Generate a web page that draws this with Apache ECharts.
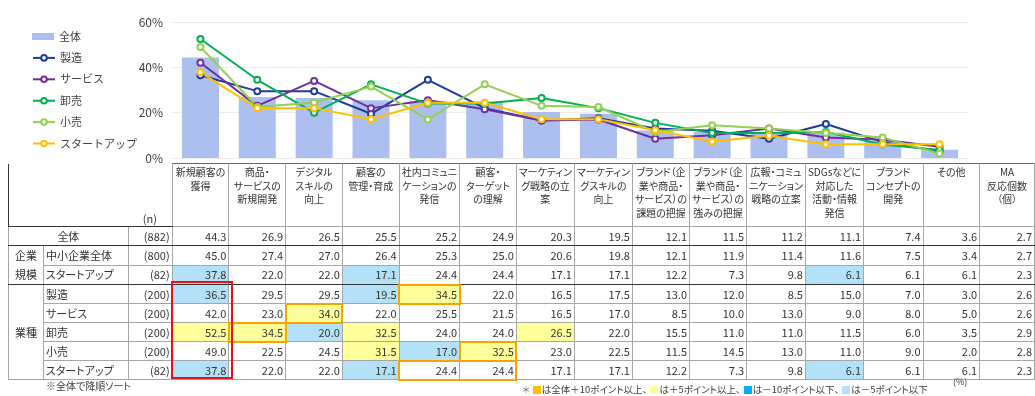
<!DOCTYPE html>
<html>
<head>
<meta charset="utf-8">
<script src="https://cdn.jsdelivr.net/npm/echarts@6.0.0/dist/echarts.min.js"></script>
<style>
  body { margin: 0; width: 1035px; height: 396px; position: relative; overflow: hidden; background: #fff;
         font-family: "Noto Sans CJK JP", sans-serif; color: #333; }
  #chart { position: absolute; left: 0; top: 0; width: 1035px; height: 396px; }
  #tbl { position: absolute; left: 8px; top: 163px; border-collapse: collapse; table-layout: fixed;
         font-size: 11px; font-feature-settings: "palt"; border: 1.5px solid #333; border-top: none; }
  #tbl td, #tbl th { padding: 0 2px; border: 1px solid #a6a6a6; line-height: 17px; white-space: nowrap; overflow: hidden; }
  #tbl tr { height: 19px; }
  #tbl tr.hd { height: 63px; }
  #tbl th { font-weight: normal; font-size: 10px; line-height: 13.5px; vertical-align: top; text-align: center; padding-top: 1px;
            border-top: 1px solid #666; }
  #tbl td.blank { border: none; border-bottom: 1.5px solid #333; }
  #tbl td.ncol { border: none; border-bottom: 1.5px solid #333; text-align: center; vertical-align: bottom; line-height: 15px; }
  #tbl td.ctr { text-align: center; }
  #tbl td.grp { text-align: center; line-height: 19px; }
  #tbl td.num { text-align: right; }
  #tbl tr.sep td { border-bottom: 1.5px solid #333; }
  #tbl .ma { border-left: 1.5px solid #333; }
  #tbl td.up10 { background: #ffc000; }
  #tbl td.up5 { background: #ffff9c; }
  #tbl td.dn10 { background: #00b0f0; }
  #tbl td.dn5 { background: #b5e1f8; }
  .box { position: absolute; box-sizing: border-box; pointer-events: none; }
  .note { position: absolute; font-size: 10px; color: #404040; font-feature-settings: "palt"; white-space: nowrap; }
  .sq { display: inline-block; width: 8px; height: 8px; vertical-align: -1px; margin: 0 1px 0 3px; }
</style>
</head>
<body>
<div id="chart"></div>
<table id="tbl"></table>
<div class="note" style="left:46px;top:378px;">※全体で降順ソート</div>
<div class="note" id="legendNote" style="left:522px;top:382px;font-size:9.5px;"></div>
<div class="note" style="left:953px;top:375px;font-size:9px;">(%)</div>

<script>
// 項目（全体で降順ソート）
const itemLabels = [
  '新規顧客の\n獲得', '商品・\nサービスの\n新規開発', 'デジタル\nスキルの\n向上', '顧客の\n管理・育成',
  '社内コミュニ\nケーションの\n発信', '顧客・\nターゲット\nの理解', 'マーケティン\nグ戦略の立\n案',
  'マーケティン\nグスキルの\n向上', 'ブランド（企\n業や商品・\nサービス）の\n課題の把握',
  'ブランド（企\n業や商品・\nサービス）の\n強みの把握', '広報・コミュ\nニケーション\n戦略の立案',
  'SDGsなどに\n対応した\n活動・情報\n発信', 'ブランド\nコンセプトの\n開発', 'その他'
];
const maLabel = 'MA\n反応個数\n（個）';

const overall         = [44.3, 26.9, 26.5, 25.5, 25.2, 24.9, 20.3, 19.5, 12.1, 11.5, 11.2, 11.1, 7.4, 3.6];
const smeAll          = [45.0, 27.4, 27.0, 26.4, 25.3, 25.0, 20.6, 19.8, 12.1, 11.9, 11.4, 11.6, 7.5, 3.4];
const startupSize     = [37.8, 22.0, 22.0, 17.1, 24.4, 24.4, 17.1, 17.1, 12.2, 7.3, 9.8, 6.1, 6.1, 6.1];
const manufacturing   = [36.5, 29.5, 29.5, 19.5, 34.5, 22.0, 16.5, 17.5, 13.0, 12.0, 8.5, 15.0, 7.0, 3.0];
const service         = [42.0, 23.0, 34.0, 22.0, 25.5, 21.5, 16.5, 17.0, 8.5, 10.0, 13.0, 9.0, 8.0, 5.0];
const wholesale       = [52.5, 34.5, 20.0, 32.5, 24.0, 24.0, 26.5, 22.0, 15.5, 11.0, 11.0, 11.5, 6.0, 3.5];
const retail          = [49.0, 22.5, 24.5, 31.5, 17.0, 32.5, 23.0, 22.5, 11.5, 14.5, 13.0, 11.0, 9.0, 2.0];
const startupIndustry = [37.8, 22.0, 22.0, 17.1, 24.4, 24.4, 17.1, 17.1, 12.2, 7.3, 9.8, 6.1, 6.1, 6.1];

const rowNames   = ['全体', '中小企業全体', 'スタートアップ', '製造', 'サービス', '卸売', '小売', 'スタートアップ'];
const sampleSize = [882, 800, 82, 200, 200, 200, 200, 82];
const maCounts   = [2.7, 2.7, 2.3, 2.6, 2.6, 2.9, 2.8, 2.3];
const rowValues  = [overall, smeAll, startupSize, manufacturing, service, wholesale, retail, startupIndustry];

// 注目セル [行, 列, 列数]
const orangeBoxes = [[3, 4, 1], [4, 2, 1], [5, 1, 1], [6, 5, 1], [7, 4, 2]];
const redBox = [3, 7, 0]; // 業種の新規顧客の獲得

const lineSeries = [
  { name: '製造', data: manufacturing, color: '#1f3c9c' },
  { name: 'サービス', data: service, color: '#7030a0' },
  { name: '卸売', data: wholesale, color: '#00b050' },
  { name: '小売', data: retail, color: '#92d050' },
  { name: 'スタートアップ', data: startupIndustry, color: '#ffc000' }
];
const barColor = '#adbfef';

// ---------- chart ----------
const myChart = echarts.init(document.getElementById('chart'));
const legendNames = ['全体'].concat(lineSeries.map(s => s.name));

const option = {
  animation: false,
  textStyle: { fontFamily: '"Noto Sans CJK JP", sans-serif' },
  grid: { left: 172, right: 67, top: 22, bottom: 238, containLabel: false, outerBoundsMode: 'none' },
  legend: legendNames.map((name, i) => ({
    data: [name],
    left: 32,
    top: 31 + i * 21.4,
    orient: 'vertical',
    itemWidth: 22,
    itemHeight: 7,
    icon: i === 0 ? 'rect' : undefined,
    padding: 0,
    selectedMode: false,
    textStyle: { fontSize: 11, color: '#404040' }
  })),
  xAxis: {
    type: 'category',
    data: itemLabels,
    axisLine: { show: false },
    axisTick: { show: false },
    axisLabel: { show: false }
  },
  yAxis: {
    type: 'value',
    min: 0,
    max: 60,
    interval: 20,
    axisLine: { show: false },
    axisTick: { show: false },
    axisLabel: { formatter: '{value}%', fontSize: 12, color: '#404040', margin: 9 },
    splitLine: { lineStyle: { color: '#ececec', width: 1 } }
  },
  series: [
    {
      name: '全体',
      type: 'bar',
      data: overall,
      barWidth: 37,
      itemStyle: { color: barColor }
    }
  ].concat(lineSeries.map(s => ({
    name: s.name,
    type: 'line',
    data: s.data,
    symbol: 'emptyCircle',
    symbolSize: 6,
    color: s.color,
    lineStyle: { width: 2, color: s.color },
    itemStyle: { color: s.color, borderWidth: 1.5 }
  })))
};
myChart.setOption(option);

// ---------- table ----------
function br(t) { return t.replace(/\n/g, '<br>'); }
function cellClass(r, c) {
  if (r === 0) return '';
  const d = Math.round((rowValues[r][c] - overall[c]) * 10) / 10;
  if (d >= 10) return 'up10';
  if (d >= 5) return 'up5';
  if (d <= -10) return 'dn10';
  if (d <= -5) return 'dn5';
  return '';
}

const tbl = document.getElementById('tbl');
let html = '<colgroup><col style="width:35px"><col style="width:85px"><col style="width:44px">';
itemLabels.forEach(() => { html += '<col style="width:56.857px">'; });
html += '<col style="width:55px"></colgroup>';
html += '<tr class="hd"><td colspan="2" class="blank"></td><td class="ncol">(n)</td>';
itemLabels.forEach(l => { html += '<th>' + br(l) + '</th>'; });
html += '<th class="ma">' + br(maLabel) + '</th></tr>';

rowNames.forEach((name, r) => {
  const sep = (r === 0 || r === 2) ? ' class="sep"' : '';
  html += '<tr' + sep + '>';
  if (r === 0) html += '<td colspan="2" class="ctr">' + name + '</td>';
  else {
    if (r === 1) html += '<td rowspan="2" class="grp" style="border-bottom:1.5px solid #333">企業<br>規模</td>';
    if (r === 3) html += '<td rowspan="5" class="grp">業種</td>';
    html += '<td>' + name + '</td>';
  }
  html += '<td class="num">(' + sampleSize[r] + ')</td>';
  rowValues[r].forEach((v, c) => {
    html += '<td class="num ' + cellClass(r, c) + '" data-r="' + r + '" data-c="' + c + '">' + v.toFixed(1) + '</td>';
  });
  html += '<td class="num ma">' + maCounts[r].toFixed(1) + '</td></tr>';
});
tbl.innerHTML = html;

function cellRect(r, c) {
  return tbl.querySelector('td[data-r="' + r + '"][data-c="' + c + '"]').getBoundingClientRect();
}
function addBox(x, y, w, h, style) {
  const d = document.createElement('div');
  d.className = 'box';
  d.style.cssText = 'left:' + x + 'px;top:' + y + 'px;width:' + w + 'px;height:' + h + 'px;' + style;
  document.body.appendChild(d);
}
orangeBoxes.forEach(([r, c, span]) => {
  const a = cellRect(r, c), b = cellRect(r, c + span - 1);
  addBox(a.left - 1, a.top - 1, b.right - a.left + 2, a.height + 2, 'border:2px solid #f7a400;');
});
{
  const a = cellRect(redBox[0], redBox[2]), b = cellRect(redBox[1], redBox[2]);
  addBox(a.left - 1, a.top - 4, a.width + 5, b.bottom - a.top + 3, 'border:2.5px solid #e8101a;');
}

document.getElementById('legendNote').innerHTML =
  '<span style="color:#777">＊</span>' +
  '<span class="sq" style="background:#ffc000"></span>は全体＋10ポイント以上、' +
  '<span class="sq" style="background:#ffff9c"></span>は＋5ポイント以上、' +
  '<span class="sq" style="background:#00b0f0"></span>は－10ポイント以下、' +
  '<span class="sq" style="background:#b5e1f8"></span>は－5ポイント以下';

window.addEventListener('resize', () => myChart.resize());
</script>
</body>
</html>
